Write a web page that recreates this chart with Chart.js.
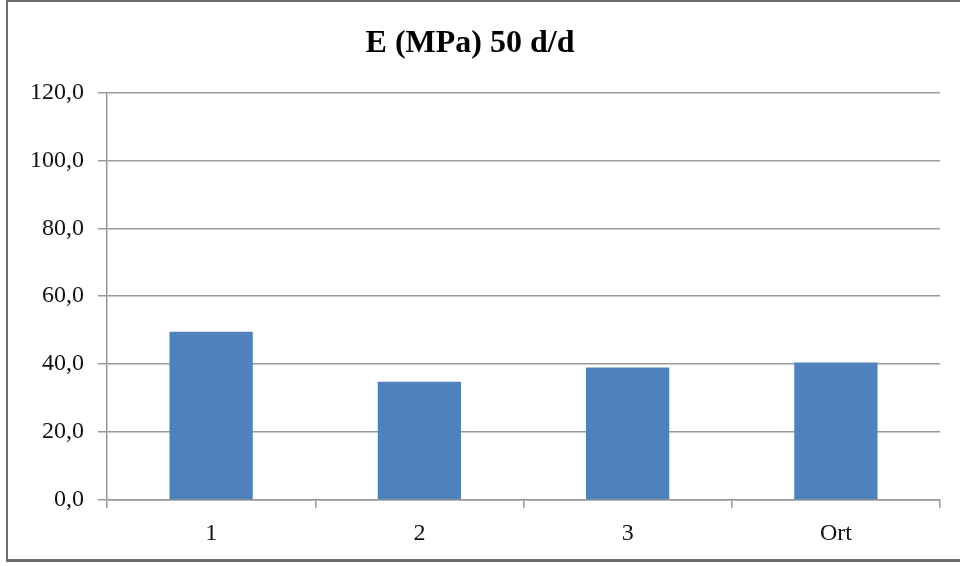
<!DOCTYPE html>
<html>
<head>
<meta charset="utf-8">
<script src="https://cdn.jsdelivr.net/npm/chart.js@4"></script>
<style>
  html, body { margin: 0; padding: 0; background: #fff; }
  #wrap { position: relative; width: 960px; height: 566px; }
  #frame { position: absolute; left: 6px; top: 0; width: 960px; height: 562px;
           border-top: 2px solid #6e6e6e; border-left: 2px solid #6e6e6e; border-bottom: 3px solid #6e6e6e;
           box-sizing: border-box; pointer-events: none; }
</style>
</head>
<body>
<div id="wrap">
  <canvas id="c" width="960" height="566"></canvas>
  <div id="frame"></div>
</div>
<script>
const categories = ["1", "2", "3", "Ort"];
const eValues = [49.5, 34.8, 39.0, 40.5];
const yTicks = [0, 20, 40, 60, 80, 100, 120];
const titleText = "E (MPa) 50 d/d";

const FONT = "'Liberation Serif', 'Times New Roman', serif";

new Chart(document.getElementById('c'), {
  type: 'bar',
  data: {
    labels: categories,
    datasets: [{
      label: 'E (MPa)',
      data: eValues,
      backgroundColor: '#4f81bd',
      borderWidth: 0,
      barPercentage: 0.4,
      categoryPercentage: 1.0
    }]
  },
  options: {
    responsive: false,
    animation: false,
    layout: { padding: { left: 0, right: 20, top: 0, bottom: 0 } },
    plugins: {
      legend: { display: false },
      tooltip: { enabled: false },
      title: {
        display: true,
        text: titleText,
        color: '#000',
        font: { family: FONT, size: 32, weight: 'bold' },
        padding: { top: 25, bottom: 29 }
      }
    },
    scales: {
      x: {
        grid: { display: true, drawOnChartArea: false, drawTicks: true, tickLength: 8, color: '#999', lineWidth: 1.5 },
        border: { display: true, color: '#999', width: 1.5 },
        ticks: { color: '#111', font: { family: FONT, size: 24 }, padding: 11 },
        afterFit(scale) { scale.height = 66; }
      },
      y: {
        min: 0, max: 120,
        afterBuildTicks(scale) { scale.ticks = yTicks.map(v => ({ value: v })); },
        grid: { color: '#999', lineWidth: 1.5, tickLength: 9, drawTicks: true },
        border: { display: true, color: '#999', width: 1.5 },
        ticks: {
          color: '#111', font: { family: FONT, size: 24 }, padding: 14,
          callback: (v) => v.toFixed(1).replace('.', ',')
        },
        afterFit(scale) { scale.width = 107; }
      }
    }
  }
});
</script>
</body>
</html>
